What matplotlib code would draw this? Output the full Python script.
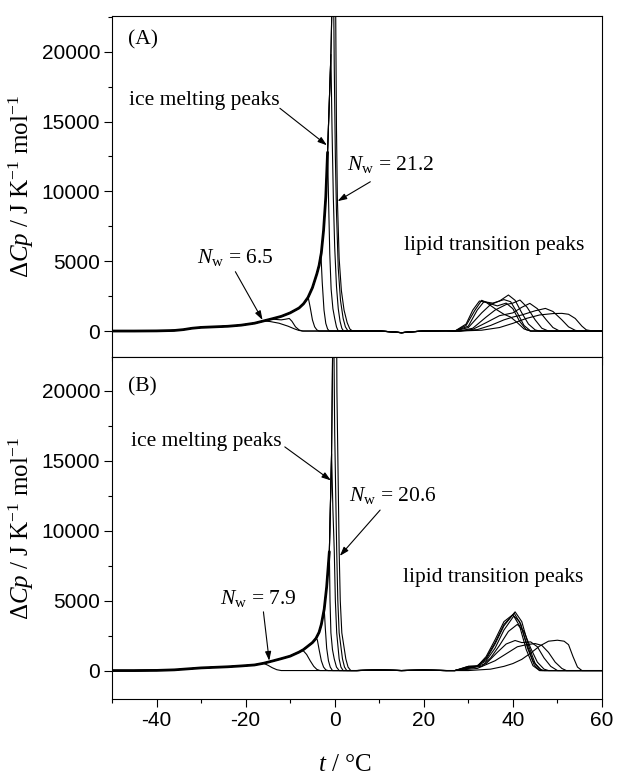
import numpy as np
import matplotlib.pyplot as plt
from matplotlib.ticker import MultipleLocator

plt.rcParams['font.family'] = 'Liberation Serif'
plt.rcParams['mathtext.fontset'] = 'custom'
plt.rcParams['mathtext.rm'] = 'Liberation Serif'
plt.rcParams['mathtext.it'] = 'Liberation Serif:italic'
plt.rcParams['axes.unicode_minus'] = False

# ---- (A) ----
# leading edge shared by all ice melting curves
env_t_a = [-50, -45, -40, -36, -34, -32, -30, -27, -24, -21, -18, -16, -14, -12, -10,
           -8, -7, -6, -5, -4, -3.5, -3, -2.5, -2, -1.6, -1.2, -0.85, -0.5, -0.2]
env_cp_a = [0, 0, 10, 40, 100, 200, 260, 300, 340, 420, 560, 720, 880, 1050, 1300,
            1650, 1950, 2400, 3100, 4100, 4700, 5600, 7200, 9600, 12800, 16500, 19800, 25000, 32000]
# where each sample leaves the leading edge, then its melting tail
split_a = [-16, -14, -7, -3.5, -1.6, -0.85, -0.5, -0.2]
tail_a = [
    [(-16, 720), (-14.5, 680), (-12.5, 560), (-10.5, 350), (-9, 150), (-8, 40), (-7, 0)],
    [(-14, 850), (-12, 800), (-11, 850), (-10.2, 900), (-9.6, 700), (-8.8, 300), (-8, 80), (-7.3, 0)],
    [(-7, 1950), (-6.3, 2250), (-5.9, 2340), (-5.5, 1700), (-5.0, 800), (-4.5, 300), (-4.0, 80), (-3.5, 0)],
    [(-3.5, 4700), (-3.1, 5560), (-2.8, 3500), (-2.4, 1500), (-2.0, 550), (-1.6, 150), (-1.2, 0)],
    [(-1.6, 12800), (-1.35, 9000), (-1.1, 5500), (-0.8, 3000), (-0.4, 1600), (0.0, 900), (0.4, 300), (0.8, 0)],
    [(-0.85, 19800), (-0.6, 14500), (-0.3, 9500), (0.0, 6000), (0.4, 3200), (0.8, 1600), (1.2, 700),
     (1.6, 200), (2.0, 0)],
    [(-0.5, 25000), (-0.35, 28000), (-0.1, 19000), (0.15, 12500), (0.4, 8500), (0.8, 4500), (1.3, 2200),
     (1.9, 900), (2.4, 300), (3.0, 0)],
    [(-0.2, 32000), (0.0, 36000), (0.2, 24000), (0.4, 14500), (0.6, 9500), (1.0, 5200), (1.5, 2900),
     (2.1, 1500), (2.8, 600), (3.4, 150), (4.0, 0)],
]
base_a = [(-5, 0), (5, 0), (10, 0), (13, -60), (15, -120), (17, -60), (20, 0), (25, 20)]
lipid_a = [
    [(28, 0), (33, 60), (37, 250), (40, 550), (43, 900), (46, 1150), (49, 1250), (51, 1265),
     (52.5, 1200), (54, 900), (55.5, 350), (56.5, 80), (58, 0)],
    [(28, 0), (32, 100), (35, 400), (38, 800), (40, 1000), (42, 1150), (45, 1450), (47.3, 1620),
     (49, 1400), (51, 800), (52.5, 300), (54, 50), (55, 0)],
    [(28, 0), (31, 120), (34, 600), (37, 1100), (40, 1300), (42, 1700), (43.8, 1980), (45.5, 1600),
     (47.5, 800), (49, 250), (50.5, 0)],
    [(28, 0), (31, 200), (34, 1000), (36, 1500), (38.5, 1900), (40, 2000), (41.6, 2220), (43.2, 1700),
     (45, 800), (46.5, 200), (48, 0)],
    [(27, 0), (30, 250), (33, 1300), (35, 1900), (37, 2150), (39, 2580), (40.5, 2200), (42, 1300),
     (43.5, 500), (45, 80), (46, 0)],
    [(27, 0), (30, 350), (32, 1500), (33.5, 2100), (35.5, 2000), (38, 2250), (39.5, 2100), (41, 1300),
     (42.5, 400), (44, 0)],
    [(27, 0), (29.5, 400), (31.5, 1500), (33, 2200), (34.5, 2000), (36.5, 1800), (38.5, 2000),
     (40, 1600), (41.5, 700), (43, 100), (44, 0)],
    [(27, 0), (29.5, 500), (31, 1500), (32.5, 2150), (34, 2050), (36, 1600), (38, 1200), (39.5, 1000),
     (41, 600), (42.5, 150), (44, 0)],
]

# ---- (B) ----
env_t_b = [-50, -45, -40, -36, -33, -30, -27, -24, -21, -18, -16, -14, -12, -10, -8, -7, -6,
           -5, -4.2, -3.5, -3, -2.35, -1.8, -1.2, -0.7, -0.3, 0.0]
env_cp_b = [0, 0, 10, 50, 120, 190, 230, 270, 330, 400, 520, 680, 850, 1030, 1320, 1500, 1750,
            2000, 2300, 2740, 3300, 4400, 6000, 8500, 15500, 28000, 36000]
split_b = [-16, -7.5, -4.2, -2.35, -1.2, -0.7, -0.3, 0.0]
tail_b = [
    [(-16, 520), (-15, 380), (-14, 200), (-13, 60), (-12, 0)],
    [(-7.5, 1430), (-7, 1400), (-6.3, 1150), (-5.5, 700), (-4.7, 300), (-4, 80), (-3.3, 0)],
    [(-4.2, 2300), (-3.9, 2200), (-3.5, 1500), (-3.0, 700), (-2.5, 250), (-2.0, 50), (-1.5, 0)],
    [(-2.35, 4400), (-2.1, 3000), (-1.8, 1600), (-1.4, 700), (-1.0, 250), (-0.5, 0)],
    [(-1.2, 8500), (-1.05, 5000), (-0.85, 2700), (-0.5, 1500), (-0.1, 830), (0.4, 250), (1.0, 0)],
    [(-0.7, 15500), (-0.4, 11500), (-0.1, 8600), (0.15, 5000), (0.45, 2700), (1.0, 830), (1.4, 250),
     (1.9, 0)],
    [(-0.3, 28000), (0.0, 17000), (0.45, 8600), (0.7, 5000), (1.0, 2700), (1.75, 830), (2.2, 250),
     (2.7, 0)],
    [(0.0, 36000), (0.2, 40000), (0.5, 20000), (1.0, 8600), (1.25, 5000), (1.6, 2700), (2.5, 830),
     (3.0, 250), (3.6, 0)],
]
base_b = [(-5, 0), (5, 0), (10, 40), (15, 0), (20, 30), (25, 0)]
lipid_b = [
    [(30, 0), (35, 100), (38, 300), (40, 500), (42, 800), (44, 1250), (46, 1750), (48, 2100),
     (50, 2170), (51.5, 2100), (52.5, 1850), (53.5, 1000), (54.5, 250), (55.5, 0)],
    [(27, 0), (32, 150), (36, 700), (39, 1300), (41, 1700), (43, 1850), (45, 1930), (46.5, 1800),
     (48, 1300), (49.5, 600), (51, 150), (52, 0)],
    [(27, 0), (31, 200), (34, 500), (36.5, 1300), (38.5, 1900), (40.5, 2150), (42, 2000), (44, 2050),
     (45.5, 1700), (47, 900), (48.5, 300), (50, 0)],
    [(27, 0), (30, 200), (33, 300), (35, 900), (37, 1800), (39, 2800), (41, 3300), (42.5, 2800),
     (44, 1600), (45.5, 600), (47, 100), (48, 0)],
    [(27, 0), (30, 300), (32, 300), (34, 700), (36, 1600), (38, 2900), (40.2, 3900), (41.5, 3500),
     (43, 2000), (44.5, 700), (46, 100), (47, 0)],
    [(27, 0), (30, 300), (32, 350), (34, 800), (36, 1900), (38, 3200), (40.5, 4200), (42, 3500),
     (43.5, 1800), (45, 500), (46.5, 0)],
    [(27, 0), (30, 250), (32, 300), (34, 900), (36, 2000), (38, 3300), (40.3, 4100), (41.8, 3300),
     (43.3, 1600), (44.8, 400), (46, 0)],
    [(27, 0), (30, 200), (32, 300), (34, 1000), (36, 2200), (38, 3500), (40, 4000), (41.5, 3200),
     (43, 1500), (44.5, 350), (46, 0)],
]


def trace(env_t, env_cp, split, tail, base, lipid):
    pts = [(t, c) for t, c in zip(env_t, env_cp) if t < split]
    pts += tail
    pts += [p for p in base if tail[-1][0] < p[0] < lipid[0][0]]
    pts += lipid
    pts.append((60, 0))
    return np.array(pts).T


def panel(ax, env_t, env_cp, splits, tails, base, lipids, thick_to, ylim):
    for s, tl, lp in zip(splits, tails, lipids):
        t, cp = trace(env_t, env_cp, s, tl, base, lp)
        ax.plot(t, cp, color='k', lw=0.8, solid_joinstyle='round')
    et = np.array(env_t)
    ec = np.array(env_cp)
    m = et <= thick_to
    ax.plot(et[m], ec[m], color='k', lw=2.0, solid_capstyle='round')
    ax.set_xlim(-50, 60)
    ax.set_ylim(*ylim)
    ax.set_yticks([0, 5000, 10000, 15000, 20000])
    ax.set_yticklabels(['0', '5000', '10000', '15000', '20000'])
    ax.yaxis.set_minor_locator(MultipleLocator(2500))
    ax.xaxis.set_major_locator(MultipleLocator(20))
    ax.xaxis.set_minor_locator(MultipleLocator(10))
    ax.tick_params(which='major', direction='out', length=5.5, width=0.8, labelsize=15, pad=3,
                   labelfontfamily='Liberation Sans')
    ax.tick_params(which='minor', direction='out', length=3, width=0.8)
    ax.tick_params(top=False, right=False)
    for sp in ax.spines.values():
        sp.set_linewidth(0.8)
    ax.set_ylabel(r'$\Delta\mathit{Cp}$ / J K$^{-1}$ mol$^{-1}$', fontsize=18)
    ax.yaxis.set_label_coords(-0.155, 0.5)


def note(ax, text, x, y):
    ax.text(x, y, text, fontsize=15.5, ha='left', va='center')


def arrow(ax, start, tip):
    ax.annotate('', xy=tip, xytext=start,
                arrowprops=dict(arrowstyle='-|>,head_length=0.45,head_width=0.15',
                                color='k', lw=0.8, shrinkA=0, shrinkB=0, mutation_scale=12))


fig = plt.figure(figsize=(6.2, 7.76), dpi=100)
ax_a = fig.add_axes([0.1806, 0.5403, 0.7903, 0.4391])
ax_b = fig.add_axes([0.1806, 0.0986, 0.7903, 0.4417])

panel(ax_a, env_t_a, env_cp_a, split_a, tail_a, base_a, lipid_a, -1.6, (-1840, 22560))
panel(ax_b, env_t_b, env_cp_b, split_b, tail_b, base_b, lipid_b, -1.2, (-2070, 22450))
ax_a.tick_params(labelbottom=False)

note(ax_a, '(A)', -46.4, 20840)
note(ax_a, 'ice melting peaks', -46.1, 16540)
arrow(ax_a, (-12.3, 15950), (-1.75, 13300))
note(ax_a, r'$N_{\rm w}$ = 21.2', 2.8, 11900)
arrow(ax_a, (8.0, 10690), (0.65, 9300))
note(ax_a, r'$N_{\rm w}$ = 6.5', -31, 5230)
arrow(ax_a, (-22.3, 4250), (-16.2, 790))
note(ax_a, 'lipid transition peaks', 15.5, 6160)

note(ax_b, '(B)', -46.4, 20290)
note(ax_b, 'ice melting peaks', -45.7, 16410)
arrow(ax_b, (-11.2, 16000), (-0.85, 13600))
note(ax_b, r'$N_{\rm w}$ = 20.6', 3.2, 12550)
arrow(ax_b, (10.2, 11480), (1.15, 8200))
note(ax_b, r'$N_{\rm w}$ = 7.9', -25.8, 5180)
arrow(ax_b, (-16.0, 4200), (-14.7, 700))
note(ax_b, 'lipid transition peaks', 15.3, 6680)

ax_b.set_xlabel(r'$t$ / °C', fontsize=18)
ax_b.xaxis.set_label_coords(0.475, -0.158)

fig.savefig('out.png', dpi=100)
